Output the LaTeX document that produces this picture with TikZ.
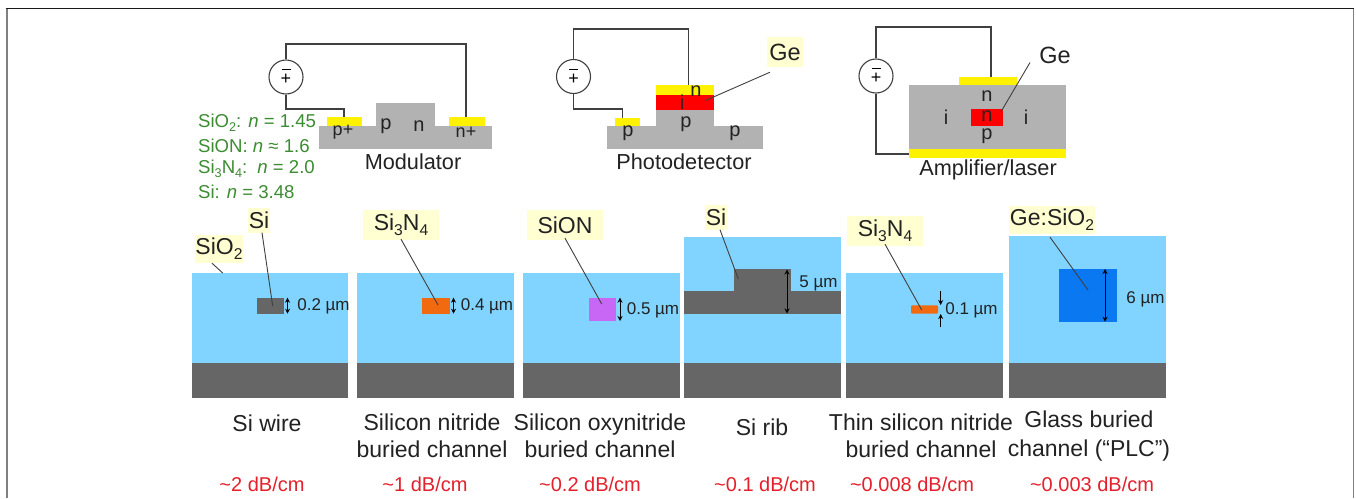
\documentclass[tikz,border=0pt]{standalone}
\usepackage{fontspec}
\usepackage{graphicx}
\setmainfont{Liberation Sans}
\usetikzlibrary{arrows.meta}
\definecolor{sio}{HTML}{80D4FF}
\definecolor{sisub}{HTML}{666666}
\definecolor{dev}{HTML}{B2B2B2}
\definecolor{pad}{HTML}{FFF200}
\definecolor{hl}{HTML}{FFFFD2}
\definecolor{txt}{HTML}{222222}
\definecolor{grn}{HTML}{3C8C32}
\definecolor{lossred}{HTML}{E4202C}
\definecolor{nit}{HTML}{F26A10}
\definecolor{oxy}{HTML}{C866F5}
\definecolor{glass}{HTML}{0A78F0}
\newcommand\fs[1]{\fontsize{#1}{#1}\selectfont}
\newcommand\subsc[1]{\raisebox{-.22em}{\scalebox{.68}{#1}}}
\newcommand\panel[4]{% x1,x2,ytop,name
  \fill[sio] (#1,#3) rectangle (#2,363);
  \fill[sisub] (#1,363) rectangle (#2,398);}
\tikzset{
  lab/.style={inner sep=0pt,text=txt,font=\fs{23}},
  hlab/.style={lab,fill=hl},
  dlab/.style={inner sep=0pt,text=txt,font=\fs{17}},
  dev text/.style={inner sep=0pt,text=txt,font=\fs{20}},
  cap text/.style={inner sep=0pt,text=txt,font=\fs{23},align=center},
  loss/.style={inner sep=0pt,text=lossred,font=\fs{20}},
  wire/.style={draw=black!75,line width=1.1pt},
  leader/.style={draw=black!75,line width=.9pt},
  dimarrow/.style={{Stealth[length=5pt,width=5pt]}-{Stealth[length=5pt,width=5pt]},black,line width=1pt},
  sdim/.style={-{Stealth[length=5pt,width=5pt]},black,line width=.8pt},
  source/.style={circle,draw=black!75,line width=1.1pt,minimum size=34pt,inner sep=0pt,fill=white}
}
\newcommand\srcsign{\fs{18}\shortstack{\rule{9pt}{1pt}\\[1pt]+}}
\begin{document}
\begin{tikzpicture}[x=1pt,y=-1pt]
\useasboundingbox (0,0) rectangle (1356,498);
\fill[white] (0,0) rectangle (1356,498);
\draw[black!50,line width=1.6pt] (7,498) -- (7,8);
\draw[black!50,line width=1.6pt] (1353.5,8) -- (1353.5,498);
\draw[black!90,line width=1pt] (6.2,8) -- (1354.3,8);

% ---------- Modulator
\fill[dev] (319,126) rectangle (492,149);
\fill[dev] (376,102.5) rectangle (435,126);
\fill[pad] (327,117) rectangle (362,125.5);
\fill[pad] (449,117) rectangle (485,125.5);
\node[source] (v1) at (286,77) {\srcsign};
\coordinate (p1) at (344,117);
\coordinate (n1) at (466,117);
\draw[wire] (v1.north) |- (466,44) -- (n1);
\draw[wire] (v1.south) |- (344,109) -- (p1);
\node[dev text,font=\fs{18}] (m1) at (343,132) {p+};
\node[dev text] (m2) at (386,126) {p};
\node[dev text] (m3) at (419,126) {n};
\node[dev text,font=\fs{18}] (m4) at (466,132) {n+};
\node[dev text,font=\fs{21.7}] (m5) at (413,162) {Modulator};

% ---------- index list
\node[anchor=west,inner sep=0pt,text=grn,font=\fs{18.6}] (g1) at (198,123) {SiO\subsc{2}: \emph{n} = 1.45};
\node[anchor=west,inner sep=0pt,text=grn,font=\fs{18.6}] (g2) at (198,146) {SiON: \emph{n} ≈ 1.6};
\node[anchor=west,inner sep=0pt,text=grn,font=\fs{18.6}] (g3) at (198,169) {Si\subsc{3}N\subsc{4}:\, \emph{n} = 2.0};
\node[anchor=west,inner sep=0pt,text=grn,font=\fs{18.6}] (g4) at (198,192) {Si: \emph{n} = 3.48};

% ---------- Photodetector
\fill[dev] (606.5,126) rectangle (763,149);
\fill[dev] (655.5,110) rectangle (714,126);
\fill[red] (655.5,94.7) rectangle (714,110);
\fill[pad] (655.5,85) rectangle (714,94.7);
\fill[pad] (614.5,117.7) rectangle (640,126);
\node[source] (v2) at (573.5,76.5) {\srcsign};
\coordinate (p2) at (622.8,117.7);
\coordinate (n2) at (688.6,85);
\draw[wire] (v2.north) |- (688.6,29) -- (n2);
\draw[wire] (v2.south) |- (622.8,109) -- (p2);
\node[dev text] (d1) at (628,133) {p};
\node[dev text] (d2) at (686,124) {p};
\node[dev text] (d3) at (735,133) {p};
\node[dev text] (d4) at (696,91) {n};
\node[dev text] (d5) at (682,102) {i};
\node[dev text,font=\fs{21.7}] (d6) at (684,162) {Photodetector};
\node[hlab,font=\fs{23.5},minimum width=36pt,minimum height=30pt] (ge1) at (785,52) {Ge};
\coordinate (ge1e) at (705,100.7);
\draw[leader] ([xshift=-15pt,yshift=-5pt]ge1.south) -- (ge1e);

% ---------- Amplifier/laser
\fill[dev] (909,85) rectangle (1066,149.3);
\fill[pad] (909,149.3) rectangle (1066,158);
\fill[pad] (958.6,76.5) rectangle (1017,85);
\fill[red] (970.7,109.3) rectangle (1003,125.7);
\node[source] (v3) at (876,76) {\srcsign};
\coordinate (n3) at (991,76.5);
\coordinate (p3) at (909,154);
\draw[wire] (v3.north) |- (991,27) -- (n3);
\draw[wire] (v3.south) |- (p3);
\node[dev text] (a1) at (987,96) {n};
\node[dev text] (a2) at (987,116) {n};
\node[dev text] (a3) at (987,136) {p};
\node[dev text] (a4) at (946,117) {i};
\node[dev text] (a5) at (1026,117) {i};
\node[dev text,font=\fs{21.7}] (a6) at (988,170) {Amplifier/laser};
\node[lab,font=\fs{23.5}] (ge2) at (1055,55) {Ge};
\coordinate (ge2e) at (1001,111.7);
\draw[leader] ([xshift=-25pt,yshift=1pt]ge2.south) -- (ge2e);

% ---------- Waveguide panels
\panel{191.7}{348}{273}{}
\panel{357}{514}{273}{}
\panel{523}{680}{273}{}
\panel{684}{841}{236.7}{}
\panel{845.7}{1002.7}{273}{}
\panel{1009}{1166}{236}{}

\fill[sisub] (256.7,297.7) rectangle (284,313.7);
\fill[nit] (422,297.7) rectangle (449.5,313.7);
\fill[oxy] (588.7,297.7) rectangle (616,321);
\fill[sisub] (684,291) rectangle (841,313.7);
\fill[sisub] (734,269.3) rectangle (791,291);
\fill[nit,rounded corners=1pt] (911,305.3) rectangle (938,313.7);
\fill[glass] (1059,269) rectangle (1116.7,321.7);

% dimension arrows
\coordinate (da1) at (287.5,297.7); \coordinate (db1) at (287.5,313.7);
\coordinate (da2) at (453.5,297.7); \coordinate (db2) at (453.5,313.7);
\coordinate (da3) at (620,297.7);   \coordinate (db3) at (620,321);
\coordinate (da4) at (787,269.5);   \coordinate (db4) at (787,313.5);
\coordinate (da5) at (1105,269);    \coordinate (db5) at (1105,321.7);
\coordinate (dt0) at (940.7,291);   \coordinate (dt1) at (940.7,305);
\coordinate (du0) at (940.7,327);   \coordinate (du1) at (940.7,314);
\draw[dimarrow] (da1) -- (db1);
\draw[dimarrow] (da2) -- (db2);
\draw[dimarrow] (da3) -- (db3);
\draw[dimarrow] (da4) -- (db4);
\draw[dimarrow] (da5) -- (db5);
\draw[sdim] (dt0) -- (dt1);
\draw[sdim] (du0) -- (du1);

\node[dlab] (w1) at (323.5,306) {0.2 µm};
\node[dlab] (w2) at (487,306) {0.4 µm};
\node[dlab] (w3) at (653,310) {0.5 µm};
\node[dlab] (w4) at (818.5,283) {5 µm};
\node[dlab] (w5) at (971.5,310) {0.1 µm};
\node[dlab] (w6) at (1145.5,299) {6 µm};

% material labels
\node[hlab,minimum width=22pt,minimum height=25pt] (s1) at (259,220) {Si};
\node[hlab,minimum width=48pt,minimum height=28pt] (s2) at (219,249) {SiO\subsc{2}};
\node[hlab,minimum width=76pt,minimum height=30pt] (s3) at (401,225) {Si\subsc{3}N\subsc{4}};
\node[hlab,minimum width=76pt,minimum height=30pt] (s4) at (565,225) {SiON};
\node[hlab,minimum width=22pt,minimum height=25pt] (s5) at (716,217) {Si};
\node[hlab,minimum width=76pt,minimum height=30pt] (s6) at (885,231) {Si\subsc{3}N\subsc{4}};
\node[hlab,minimum width=86pt,minimum height=28pt] (s7) at (1052,220) {Ge:SiO\subsc{2}};

\coordinate (e1) at (272.7,306);
\coordinate (e2) at (222.7,273);
\coordinate (e3) at (438,305);
\coordinate (e4) at (601.7,304);
\coordinate (e5) at (738.3,279);
\coordinate (e6) at (921.7,310);
\coordinate (e7) at (1088,290);
\draw[leader] ([xshift=3pt]s1.south) -- (e1);
\draw[leader] ([xshift=-7pt]s2.south) -- (e2);
\draw[leader] ([yshift=1pt]s3.south) -- (e3);
\draw[leader] ([yshift=2pt]s4.south) -- (e4);
\draw[leader] ([xshift=4pt]s5.south) -- (e5);
\draw[leader] ([yshift=2pt]s6.south) -- (e6);
\draw[leader] ([xshift=-2pt,yshift=-3pt]s7.south) -- (e7);

% ---------- captions
\node[cap text] (c1) at (267,423) {Si wire};
\node[cap text] (c2) at (432,436) {Silicon nitride\\[4pt]buried channel};
\node[cap text] (c3) at (600,436) {Silicon oxynitride\\[4pt]buried channel};
\node[cap text] (c4) at (762,427) {Si rib};
\node[cap text] (c5) at (921,436) {Thin silicon nitride\\[4pt]buried channel};
\node[cap text] (c6) at (1089,436) {Glass buried\\[6pt]channel (“PLC”)};

\node[loss] (l1) at (262,484) {\textasciitilde 2 dB/cm};
\node[loss] (l2) at (425,484) {\textasciitilde 1 dB/cm};
\node[loss] (l3) at (590,484) {\textasciitilde 0.2 dB/cm};
\node[loss] (l4) at (765,484) {\textasciitilde 0.1 dB/cm};
\node[loss] (l5) at (912,484) {\textasciitilde 0.008 dB/cm};
\node[loss] (l6) at (1092,484) {\textasciitilde 0.003 dB/cm};
\end{tikzpicture}
\end{document}
